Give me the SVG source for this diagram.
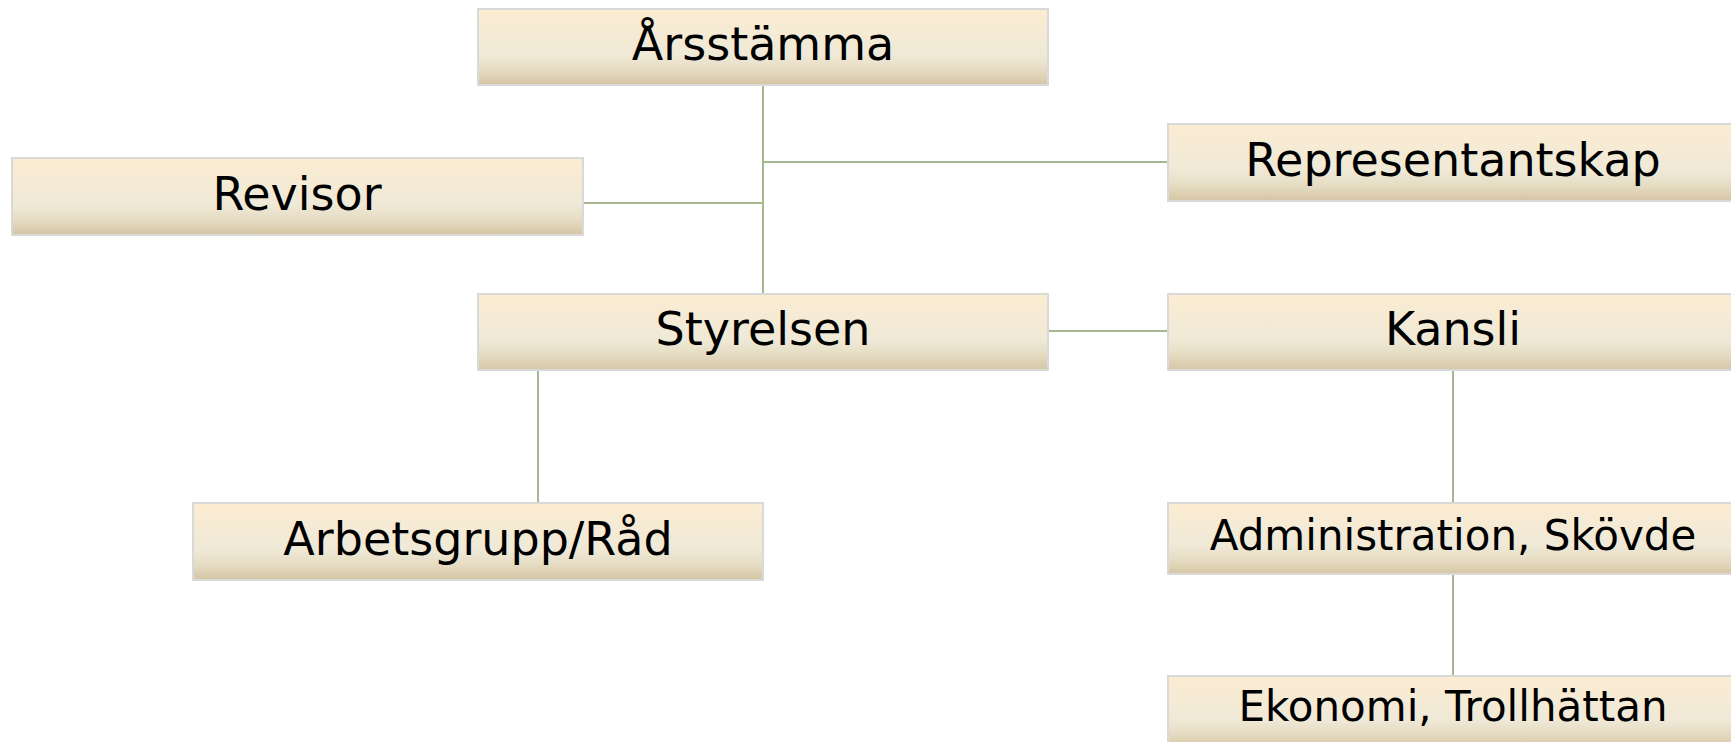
<svg xmlns="http://www.w3.org/2000/svg" width="1731" height="742" viewBox="0 0 1731 742">
<defs>
<linearGradient id="g" x1="0" y1="0" x2="0" y2="1">
<stop offset="0" stop-color="#FCECD2"/>
<stop offset="0.6" stop-color="#EFE9D7"/>
<stop offset="0.8" stop-color="#E6DCC3"/>
<stop offset="1" stop-color="#D5C5A3"/>
</linearGradient>
<style>
.box{fill:url(#g);stroke:#D9D9D9;stroke-width:2}
.lbl{font-family:"DejaVu Sans",sans-serif;font-size:46px;fill:#000;text-anchor:middle}
.sm{font-size:42px}
.c{stroke:#A6B791;stroke-width:2;fill:none}
</style>
</defs>
<rect width="1731" height="742" fill="#fff"/>
<g id="connectors">
<line class="c" x1="763" y1="85" x2="763" y2="294"/>
<line class="c" x1="763" y1="162" x2="1168" y2="162"/>
<line class="c" x1="583" y1="203" x2="763" y2="203"/>
<line class="c" x1="1048" y1="331" x2="1168" y2="331"/>
<line class="c" x1="538" y1="370" x2="538" y2="503"/>
<line class="c" x1="1453" y1="370" x2="1453" y2="503"/>
<line class="c" x1="1453" y1="574" x2="1453" y2="676"/>
</g>
<g id="arsstamma"><rect class="box" x="478" y="9" width="570" height="76"/><text class="lbl" x="763" y="60">Årsstämma</text></g>
<g id="revisor"><rect class="box" x="12" y="158" width="571" height="77"/><text class="lbl" x="297" y="210">Revisor</text></g>
<g id="representantskap"><rect class="box" x="1168" y="124" width="570" height="77"/><text class="lbl" x="1453" y="176">Representantskap</text></g>
<g id="styrelsen"><rect class="box" x="478" y="294" width="570" height="76"/><text class="lbl" x="763" y="345">Styrelsen</text></g>
<g id="kansli"><rect class="box" x="1168" y="294" width="570" height="76"/><text class="lbl" x="1453" y="345">Kansli</text></g>
<g id="arbetsgrupp"><rect class="box" x="193" y="503" width="570" height="77"/><text class="lbl" x="478" y="555">Arbetsgrupp/Råd</text></g>
<g id="administration"><rect class="box" x="1168" y="503" width="570" height="71"/><text class="lbl sm" x="1453" y="550">Administration, Skövde</text></g>
<g id="ekonomi"><rect class="box" x="1168" y="676" width="570" height="72"/><text class="lbl sm" x="1453" y="721">Ekonomi, Trollhättan</text></g>
</svg>
